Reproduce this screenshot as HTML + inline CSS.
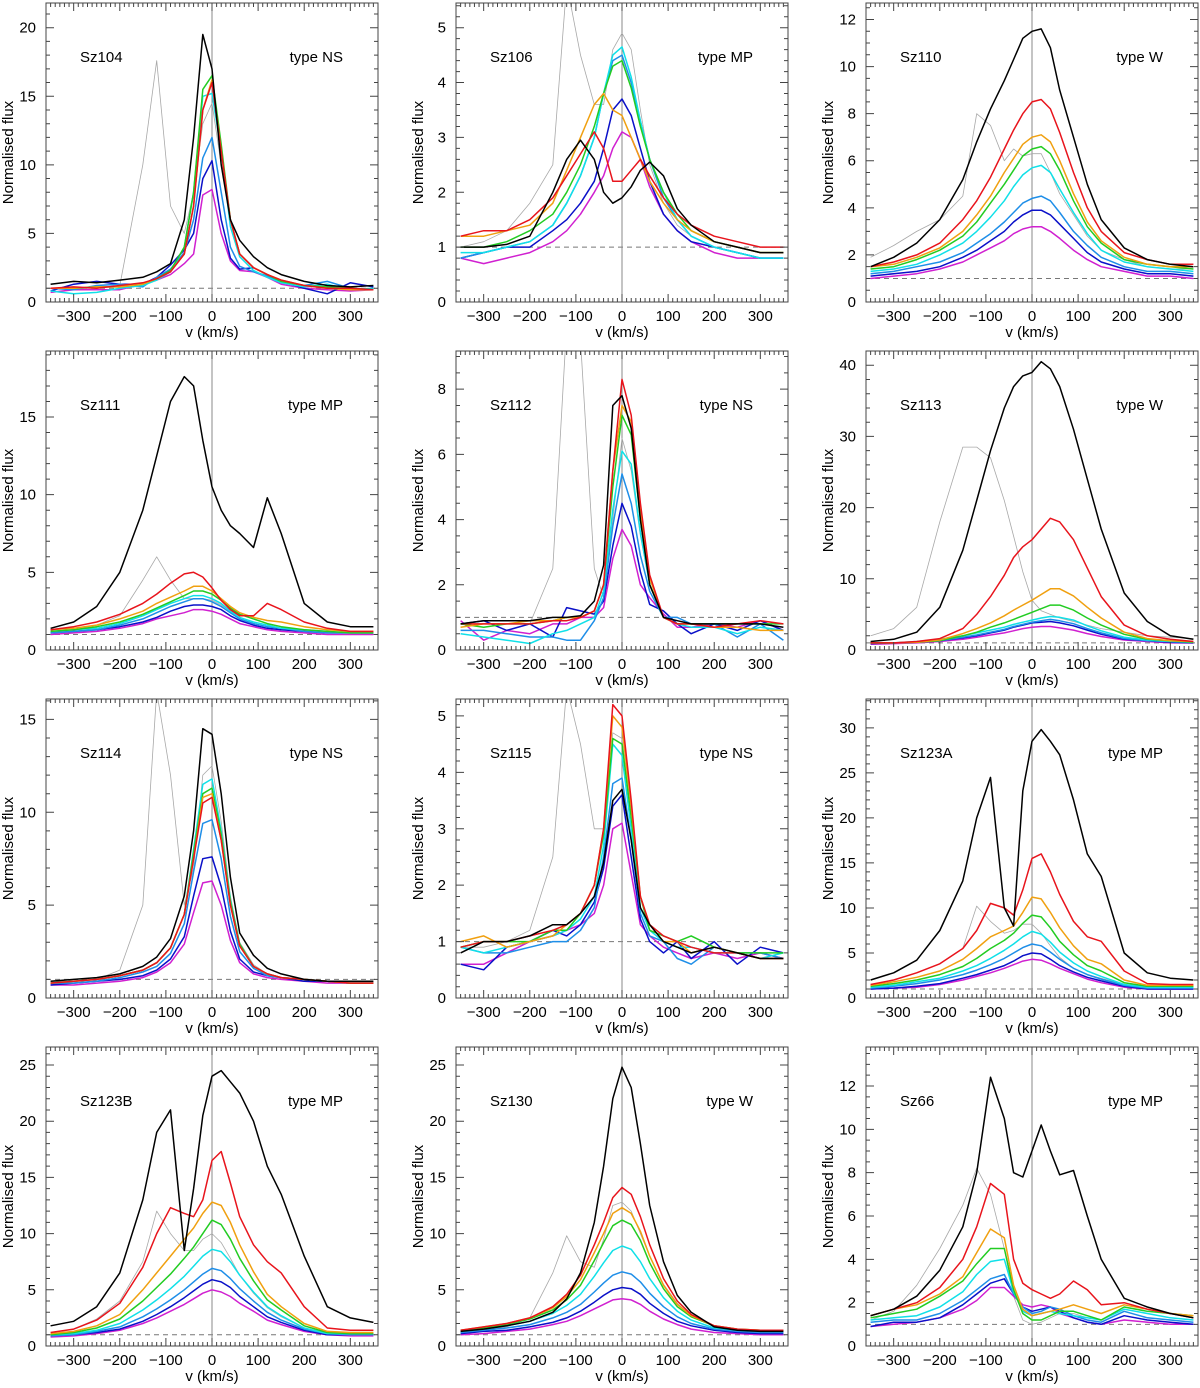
<!DOCTYPE html>
<html><head><meta charset="utf-8"><style>
html,body{margin:0;padding:0;background:#fff;}
svg{display:block;font-family:"Liberation Sans",Arial,sans-serif;}
</style></head><body>
<svg id="fig" width="1200" height="1388" viewBox="0 0 1200 1388" xmlns="http://www.w3.org/2000/svg"></svg>
<script>
const velocities=[-350,-300,-250,-200,-150,-120,-90,-60,-40,-20,0,20,40,60,90,120,150,200,250,300,350];
const xTicks=[-300,-200,-100,0,100,200,300];
const seriesColors=["#000000","#e8141c","#f0a010","#22cc22","#10e0e8","#1e8ee8","#0a10c8","#d020d0","#a8a8a8"];
const seriesNames=["black","red","orange","green","cyan","sky","blue","magenta","grey"];
const panelNames=["Sz104","Sz106","Sz110","Sz111","Sz112","Sz113","Sz114","Sz115","Sz123A","Sz123B","Sz130","Sz66"];
const panelTypes=["type NS","type MP","type W","type MP","type NS","type W","type NS","type NS","type MP","type MP","type W","type MP"];
const yMaxes=[21.8,5.45,12.7,19.25,9.17,42,16.1,5.3,33.2,26.6,26.6,13.8];
const yMajor=[5,1,2,5,2,10,5,1,5,5,5,2];
const yMinor=[1,0.2,0.5,1,0.5,2,1,0.2,1,1,1,0.5];

const sz104=[
[1.3,1.5,1.4,1.6,1.8,2.2,2.8,6,12,19.5,17,10,6,4.5,3.3,2.5,2,1.5,1.2,1.1,1.2],
[1,1.1,1,1.2,1.4,1.7,2.2,3.5,7,14,16,11,6,3.5,2.5,2,1.6,1.2,1,1,0.9],
[1,1,1.1,1.1,1.3,1.7,2.2,3.5,7,14,16.2,11,6,3.5,2.5,2,1.6,1.2,1,0.9,0.9],
[1,1,1.1,1.1,1.3,1.7,2.3,4,8,15.5,16.5,11.5,6,3.5,2.5,2,1.5,1.2,1.1,1,0.9],
[0.8,0.6,0.7,1,1.2,1.6,2.2,4,8,15,15.2,11,5.5,3.3,2.3,1.8,1.4,1.1,1.3,0.9,1],
[1,0.9,1.2,1.3,1.1,1.8,2.4,3.6,6,10.5,12,8,4,2.6,2.2,1.9,1.4,1.2,1.5,1,0.9],
[0.8,1.3,1.5,1.3,1.3,1.8,2.7,3.8,5,9,10.3,6,3.2,2.4,2.5,2,1.5,1,0.6,1.4,1.1],
[0.7,0.9,0.9,0.9,1.3,1.6,2,2.8,3.5,7.8,8.2,5,3,2.3,2.2,1.8,1.3,1,0.9,0.8,0.9],
[1,1,1,1.2,10,17.6,7,5,8,13,14.5,10,6,3.5,2.5,2,1.6,1.2,1,1,1]];
const sz106=[
[1,1,1.05,1.2,2.0,2.6,2.95,2.6,2.0,1.8,1.9,2.1,2.4,2.55,2.3,1.7,1.4,1.1,1,0.9,0.9],
[1.2,1.3,1.3,1.5,1.9,2.3,2.7,3.1,2.8,2.2,2.2,2.4,2.6,2.3,1.9,1.6,1.4,1.2,1.1,1.0,1.0],
[1.2,1.2,1.3,1.4,1.8,2.4,3.0,3.6,3.8,3.5,3.4,3.0,2.6,2.2,1.8,1.5,1.3,1.1,1.0,0.9,0.9],
[1,1,1.1,1.3,1.6,2.0,2.5,3.2,3.8,4.3,4.4,3.9,3.2,2.6,2.0,1.6,1.3,1.1,1,0.9,0.9],
[0.9,0.9,1,1.1,1.4,1.8,2.3,3,3.8,4.5,4.65,4.1,3.3,2.6,2,1.5,1.2,1,0.9,0.8,0.8],
[0.8,0.9,1.0,1.1,1.4,1.8,2.3,3.0,3.8,4.4,4.5,4.0,3.3,2.6,1.9,1.5,1.2,1.0,0.9,0.8,0.8],
[0.8,0.9,1.0,1.0,1.3,1.5,1.8,2.2,2.8,3.5,3.7,3.4,2.8,2.2,1.6,1.3,1.1,1.0,0.9,0.8,0.8],
[0.8,0.7,0.8,0.9,1.1,1.3,1.6,2.0,2.3,2.8,3.1,3.0,2.6,2.1,1.6,1.3,1.1,0.9,0.8,0.8,0.8],
[1,1.1,1.3,1.8,2.5,5.8,4.5,3.6,3.6,4.6,4.9,4.6,3.5,2.5,1.8,1.4,1.2,1.0,0.9,0.8,0.8]];
const sz110=[
[1.5,1.9,2.5,3.5,5.2,6.8,8.2,9.4,10.3,11.2,11.5,11.6,10.8,9,7,5,3.5,2.3,1.8,1.6,1.5],
[1.5,1.7,2,2.5,3.5,4.3,5.3,6.5,7.3,8,8.5,8.6,8.2,7.2,5.5,4,3,2.1,1.8,1.6,1.6],
[1.5,1.6,1.9,2.3,3,3.7,4.5,5.5,6.1,6.7,7,7.1,6.8,6,4.6,3.4,2.6,1.9,1.6,1.5,1.5],
[1.4,1.5,1.8,2.2,2.8,3.4,4.2,5,5.6,6.2,6.5,6.6,6.3,5.6,4.3,3.2,2.5,1.8,1.6,1.5,1.4],
[1.3,1.4,1.6,2,2.5,3,3.6,4.3,4.9,5.4,5.7,5.8,5.5,4.8,3.8,2.9,2.2,1.7,1.5,1.4,1.3],
[1.2,1.3,1.5,1.7,2.1,2.5,2.9,3.4,3.8,4.2,4.4,4.5,4.3,3.8,3,2.4,1.9,1.5,1.3,1.3,1.2],
[1.1,1.2,1.3,1.5,1.9,2.2,2.6,3,3.4,3.7,3.9,3.9,3.7,3.3,2.7,2.1,1.7,1.4,1.2,1.2,1.1],
[1,1.1,1.2,1.4,1.7,2,2.3,2.6,2.9,3.1,3.2,3.2,3,2.7,2.2,1.8,1.5,1.3,1.1,1.1,1],
[1.9,2.4,3,3.5,4.5,8,7.5,6,6.5,6.2,6.3,6.3,5.5,4.6,3.7,2.8,2.2,1.8,1.5,1.4,1.4]];
const sz111=[
[1.4,1.8,2.8,5,9,12.5,16,17.6,17,13.5,10.5,9,8,7.5,6.6,9.8,7.5,3,1.8,1.5,1.5],
[1.3,1.5,1.8,2.3,3,3.6,4.3,4.9,5,4.7,4,3.2,2.6,2.2,2.2,3,2.6,1.8,1.4,1.2,1.2],
[1.3,1.4,1.6,2,2.5,3,3.4,3.8,4.1,4.1,3.8,3.3,2.8,2.4,2.1,1.9,1.8,1.5,1.3,1.2,1.2],
[1.2,1.3,1.5,1.8,2.3,2.7,3.1,3.5,3.8,3.8,3.6,3.2,2.7,2.3,2,1.7,1.5,1.3,1.2,1.1,1.1],
[1.2,1.3,1.4,1.7,2.2,2.6,3,3.3,3.5,3.5,3.3,3,2.5,2.1,1.8,1.6,1.4,1.3,1.2,1.1,1.1],
[1.1,1.2,1.3,1.6,2,2.4,2.8,3.1,3.3,3.3,3.1,2.8,2.4,2,1.7,1.5,1.4,1.2,1.1,1.1,1.1],
[1.1,1.2,1.3,1.5,1.8,2.1,2.5,2.8,2.9,2.9,2.8,2.6,2.2,1.9,1.6,1.4,1.3,1.2,1.1,1.1,1.1],
[1,1.1,1.2,1.4,1.7,2,2.2,2.4,2.6,2.6,2.5,2.3,2,1.7,1.5,1.3,1.2,1.1,1,1,1],
[1.2,1.3,1.6,2.2,4.5,6,4.5,3.3,3.3,3.3,3.2,2.9,2.5,2.1,1.8,1.6,1.4,1.2,1.1,1.1,1.1]];
const sz112=[
[0.8,0.9,0.9,0.9,1,1,1.05,1.5,2.6,7.5,7.8,6.8,4,2,1,0.9,0.8,0.8,0.8,0.8,0.7],
[0.8,0.8,0.8,0.8,0.9,0.9,1,1.2,2,5.5,8.3,7.2,4.5,2.3,1,0.8,0.8,0.7,0.8,0.9,0.8],
[0.7,0.8,0.8,0.9,0.9,1,1,1.2,2,5.5,7.5,7,4.3,2.2,1,0.8,0.8,0.7,0.7,0.6,0.6],
[0.8,0.7,0.8,0.8,0.9,1,1,1.2,2,5,7.2,6.6,4,2,1,0.8,0.8,0.8,0.8,0.8,0.8],
[0.5,0.4,0.3,0.2,0.5,0.6,0.8,1,1.8,4.3,6.1,5.7,3.6,2,1,0.8,0.7,0.7,0.5,0.7,0.6],
[0.6,0.6,0.5,0.4,0.4,0.3,0.3,0.9,1.6,3.8,5.4,4.5,2.9,1.8,1,1,0.8,0.8,0.4,0.8,0.3],
[0.8,0.9,0.6,0.8,0.4,1.3,1.2,1.1,1.5,3.2,4.5,3.8,2.4,1.4,1.2,0.8,0.5,0.8,0.6,0.9,0.6],
[0.9,0.3,0.6,0.5,0.8,0.8,1,1,1.3,2.8,3.7,3.2,2,1.6,1.1,0.7,0.7,0.8,0.7,0.9,0.6],
[0.8,0.8,0.8,0.8,2.5,10,9.5,2.5,1.6,4,6.5,5.5,3.5,2,1,0.8,0.8,0.7,0.7,0.6,0.6]];
const sz113=[
[1.2,1.5,2.5,6,14,21,28,34,37,38.5,39,40.5,39.5,37,31,24,17,8,4,2,1.5],
[1,1,1.2,1.6,3,5,7.5,10.5,13,14.5,15.5,17,18.5,18,15.5,11.5,7.5,3.5,2,1.5,1.2],
[1,1,1.1,1.4,2.3,3,3.8,4.8,5.6,6.3,7,7.8,8.6,8.6,7.6,6,4.5,2.5,1.6,1.3,1.2],
[1,1,1.1,1.3,2,2.5,3.2,3.8,4.3,4.8,5.3,5.8,6.3,6.3,5.6,4.5,3.5,2.2,1.5,1.3,1.1],
[1,1,1.2,1.5,2,2.4,2.8,3.2,3.6,3.9,4.2,4.5,4.7,4.6,4.2,3.4,2.7,1.8,1.4,1.2,1.1],
[1,1,1.1,1.3,1.8,2.1,2.5,2.9,3.3,3.6,3.9,4.1,4.3,4.1,3.7,3,2.4,1.6,1.3,1.2,1.1],
[0.9,1,1.1,1.3,1.7,2,2.4,2.8,3.2,3.5,3.8,3.9,4,3.8,3.4,2.8,2.2,1.5,1.3,1.1,1],
[0.8,0.9,1,1.2,1.5,1.8,2.1,2.4,2.7,3,3.2,3.3,3.3,3.1,2.8,2.3,1.9,1.4,1.2,1,1],
[2,3,6,18,28.5,28.5,27,21,16,11,7,5.5,5,4.5,4,3.5,3,2.5,2,1.8,1.6]];
const sz114=[
[0.9,1,1.1,1.3,1.7,2.2,3.2,5.5,9,14.5,14.2,11,6.5,3.5,2.3,1.6,1.3,1,0.9,0.9,0.9],
[0.8,0.9,1,1.2,1.5,1.9,2.7,4.5,7.5,10.5,10.8,8.5,5,2.8,1.7,1.3,1.1,1,0.9,0.8,0.8],
[0.8,0.9,1,1.2,1.5,1.9,2.7,4.5,7.5,10.8,11,8.5,5,2.8,1.7,1.3,1.1,1,0.9,0.8,0.8],
[0.8,0.9,1,1.2,1.5,1.9,2.7,4.5,7.8,11,11.3,8.8,5.2,2.9,1.7,1.3,1.1,1,0.9,0.8,0.8],
[0.8,0.9,1,1.2,1.5,1.9,2.7,4.5,8,11.5,11.8,9,5.3,2.9,1.7,1.3,1.1,1,0.9,0.8,0.8],
[0.8,0.8,0.9,1.1,1.4,1.7,2.4,4,6.8,9.4,9.6,7.5,4.4,2.5,1.6,1.2,1.1,1,0.9,0.8,0.8],
[0.7,0.8,0.9,1,1.2,1.5,2.1,3.3,5.5,7.5,7.6,6,3.6,2.1,1.4,1.2,1.1,0.9,0.9,0.8,0.8],
[0.7,0.7,0.8,0.9,1.1,1.4,1.9,2.9,4.6,6.2,6.3,5,3.1,1.9,1.3,1.1,1,0.9,0.8,0.8,0.8],
[0.9,0.9,1,1.5,5,16.5,12,5,7,12,12.5,9.5,5.5,3,1.8,1.3,1.1,1,0.9,0.9,0.9]];
const sz115=[
[0.8,1,1,1.1,1.3,1.3,1.5,1.8,2.4,3.5,3.7,2.8,1.6,1.3,1,0.9,0.8,0.9,0.8,0.7,0.7],
[0.9,1,1,1.1,1.2,1.3,1.5,2,3,5.2,5,3.5,1.8,1.3,1.1,1,0.9,0.8,0.8,0.7,0.7],
[1,1.1,0.9,1,1.1,1.3,1.5,2,3,5,4.8,3.4,1.8,1.3,1,1,0.8,0.9,0.8,0.7,0.7],
[0.9,1,1,1,1.2,1.2,1.5,2,2.9,4.6,4.5,3.2,1.8,1.2,1.1,1,1.1,0.9,0.8,0.8,0.8],
[0.9,0.8,0.9,1,1.1,1.2,1.4,1.8,2.7,4.5,4.3,3,1.6,1.2,1,0.9,0.9,0.8,0.8,0.7,0.8],
[0.9,0.8,0.8,0.9,1,1,1.2,1.6,2.5,3.8,3.9,2.8,1.5,1.1,1,0.7,0.6,0.9,0.8,0.8,0.7],
[0.6,0.5,0.9,1,1.2,1.1,1.3,1.7,2.3,3.4,3.6,2.5,1.4,1,0.8,1,0.7,1,0.6,0.9,0.8],
[0.6,0.6,0.8,1,1.1,1.2,1.3,1.5,2,3,3.1,2.2,1.3,1.1,0.9,0.8,0.7,0.8,0.7,0.8,0.7],
[0.9,0.9,1,1.2,2.5,5.5,4.5,3,3,4.7,4.6,3.3,1.8,1.3,1.1,1,0.9,0.8,0.8,0.7,0.7]];
const sz123a=[
[2,2.8,4.2,7.5,13,20,24.5,10,8,23,28.5,29.8,28.5,27,22,16,13.5,5,2.8,2.2,2],
[1.5,2,2.8,3.8,5.5,7.5,10.5,10,9.2,12,15.5,16,14,11.5,8.5,6.8,6.3,3,1.6,1.5,1.5],
[1.4,1.8,2.3,3,4.3,5.5,6.8,7.5,8,9.5,11.2,11,9.5,7.8,5.8,4.3,3.8,2,1.4,1.4,1.4],
[1.3,1.6,2,2.6,3.5,4.4,5.5,6.4,7.2,8.3,9.2,9,7.8,6.3,4.8,3.6,3,1.7,1.3,1.3,1.3],
[1.2,1.4,1.8,2.2,3,3.6,4.4,5.3,6,6.8,7.4,7.1,6.2,5.1,3.9,3,2.4,1.5,1.2,1.2,1.2],
[1.1,1.3,1.6,2,2.6,3.1,3.7,4.4,5,5.6,6,5.8,5.1,4.3,3.3,2.6,2.1,1.4,1.1,1.1,1.1],
[1,1.1,1.3,1.6,2.2,2.6,3.1,3.6,4.1,4.7,5,4.9,4.3,3.6,2.9,2.3,1.9,1.3,1,1,1],
[1,1.1,1.2,1.5,2,2.4,2.8,3.3,3.7,4.1,4.3,4.2,3.8,3.3,2.7,2.1,1.7,1.2,1,1,1],
[1.5,2,2.8,3.8,5.5,10.2,8.5,7.2,7.5,8.2,8.2,7.2,5.8,4.5,3.3,2.6,2.2,1.5,1.3,1.3,1.3]];
const sz123b=[
[1.8,2.2,3.5,6.5,13,19,21,8.5,14,20.5,24,24.5,23.5,22.5,20,16,13.5,8,3.5,2.5,2.1],
[1.2,1.5,2.3,3.8,7,10,12.3,11.8,11.5,13,16.5,17.3,14.5,11.5,9,7.5,6.5,3.5,1.6,1.4,1.4],
[1.1,1.3,1.8,2.8,5,6.5,8,9.5,10.5,11.8,12.8,12.5,11,9,6.6,4.6,3.5,2,1.3,1.2,1.2],
[1,1.2,1.6,2.4,4,5.2,6.4,7.8,8.8,10,11.2,10.8,9.5,7.8,5.8,4.1,3.2,1.8,1.2,1.1,1.1],
[1,1.1,1.4,2,3.2,4.1,5.1,6.2,7.1,8,8.6,8.4,7.5,6.3,4.8,3.5,2.7,1.6,1.1,1.1,1.1],
[0.9,1,1.3,1.7,2.6,3.3,4.1,5,5.7,6.4,6.9,6.7,6,5.1,4,3,2.3,1.5,1.1,1,1],
[0.9,1,1.2,1.5,2.2,2.8,3.5,4.3,4.9,5.5,5.9,5.7,5.2,4.4,3.5,2.6,2.1,1.4,1,1,1],
[0.8,0.9,1.1,1.4,2,2.5,3.1,3.7,4.2,4.7,5,4.8,4.4,3.8,3.1,2.3,1.9,1.3,1,0.9,0.9],
[1.2,1.5,2.4,4,7.5,12,10,8.5,8.5,9.5,10,9.2,7.8,6.3,4.7,3.4,2.6,1.6,1.2,1.1,1.1]];
const sz130=[
[1.3,1.5,1.8,2.2,3,4.2,6.5,11,16,22,24.8,23,18,12.5,7.5,4.5,3,1.7,1.4,1.3,1.3],
[1.4,1.7,2,2.5,3.5,4.6,6.3,9,11,13.2,14.1,13.5,11.5,9,6,4,2.8,1.8,1.5,1.4,1.4],
[1.4,1.7,2,2.5,3.4,4.4,5.9,8.3,10,11.8,12.3,11.8,10.2,8,5.4,3.7,2.7,1.8,1.5,1.4,1.4],
[1.4,1.6,1.9,2.4,3.2,4.1,5.4,7.6,9.2,10.7,11.2,10.8,9.4,7.4,5.1,3.5,2.6,1.8,1.5,1.4,1.4],
[1.3,1.5,1.8,2.2,2.9,3.6,4.6,6.2,7.4,8.5,8.9,8.6,7.5,6,4.3,3.1,2.3,1.6,1.4,1.3,1.3],
[1.2,1.4,1.6,1.9,2.5,3,3.7,4.8,5.6,6.3,6.6,6.4,5.7,4.7,3.5,2.6,2,1.5,1.3,1.2,1.2],
[1.1,1.3,1.4,1.7,2.1,2.5,3.1,3.9,4.5,5,5.2,5.1,4.6,3.8,2.9,2.2,1.8,1.4,1.2,1.1,1.1],
[1,1.1,1.3,1.5,1.9,2.2,2.7,3.3,3.7,4.1,4.2,4.1,3.7,3.1,2.4,1.9,1.5,1.2,1.1,1,1],
[1.2,1.4,1.7,2.5,6.5,9.8,7.5,7,9.5,12.5,12.8,12,10,8,5.5,3.8,2.7,1.7,1.4,1.3,1.3]];
const sz66=[
[1.4,1.7,2.3,3.5,5.5,8,12.4,10.5,8,7.8,9,10.2,9,7.9,8.1,6,4,2.2,1.8,1.5,1.3],
[1.4,1.7,2,2.7,4,5.5,7.5,7,4,2.9,2.6,2.4,2.2,2.4,3,2.6,1.9,2,1.7,1.5,1.3],
[1.4,1.7,1.9,2.4,3.2,4.3,5.4,5,2.8,1.7,1.4,1.5,1.6,1.7,1.9,1.7,1.5,1.9,1.7,1.5,1.4],
[1.3,1.5,1.7,2.3,3,3.8,4.5,4.5,2.6,1.5,1.2,1.2,1.4,1.6,1.6,1.4,1.2,1.8,1.6,1.5,1.4],
[1.2,1.3,1.4,1.8,2.5,3.3,3.9,4,2.5,1.6,1.4,1.5,1.6,1.5,1.4,1.3,1.2,1.7,1.5,1.3,1.2],
[1.1,1.2,1.2,1.5,2.1,2.6,3.1,3.3,2.4,1.8,1.5,1.6,1.8,1.7,1.4,1.2,1.1,1.6,1.3,1.2,1.1],
[0.9,1.1,1.1,1.3,1.9,2.4,2.9,3.1,2.4,1.8,1.6,1.7,1.8,1.6,1.3,1.1,1,1.4,1.2,1.1,1],
[0.9,1,1.1,1.3,1.7,2.1,2.7,2.7,2.3,1.9,1.8,1.9,1.8,1.5,1.3,1.1,1,1.2,1.1,1,1],
[1.2,1.6,2.8,4.5,6.5,8.2,7,4.5,2.3,1.2,1,1.1,1.3,1.5,1.5,1.3,1.2,1.7,1.5,1.3,1.2]];
const panelData=[sz104,sz106,sz110,sz111,sz112,sz113,sz114,sz115,sz123a,sz123b,sz130,sz66];

const NS="http://www.w3.org/2000/svg";
const svg=document.getElementById('fig');
const colLeft=[46,456,866], colW=332, rowTop=[3,351,699,1047], plotH=299;
const XMIN=-360,XMAX=360;
function mk(tag,attrs,parent){const e=document.createElementNS(NS,tag);for(const k in attrs)e.setAttribute(k,attrs[k]);parent.appendChild(e);return e;}

panelNames.forEach((pname,p)=>{
  const L=colLeft[p%3],T=rowTop[Math.floor(p/3)],R=L+colW,B=T+plotH;
  const ymax=yMaxes[p];
  const xs=v=>L+(v-XMIN)/(XMAX-XMIN)*colW;
  const ys=y=>B-y/ymax*plotH;
  const g=mk('g',{},svg);
  
  
  const cp=mk('clipPath',{id:'c'+p},g);
  mk('rect',{x:L,y:T,width:colW,height:plotH},cp);
  const base=mk('line',{x1:L,x2:R,y1:ys(1),y2:ys(1),stroke:'#777','stroke-width':1,'stroke-dasharray':'5,4'},g);
  
  
  const zl=mk('line',{x1:xs(0),x2:xs(0),y1:T,y2:B,stroke:'#888','stroke-width':1},g);
  
  
  const order=[8,7,6,5,4,3,2,1,0];
  const data=panelData[p];
  order.forEach(s=>{
    const pts=data[s].map((y,i)=>xs(velocities[i]).toFixed(1)+','+ys(y).toFixed(1)).join(' ');
    const pl=mk('polyline',{points:pts,fill:'none',stroke:seriesColors[s],'stroke-width':s===8?0.8:1.5,'stroke-linejoin':'round','clip-path':'url(#c'+p+')'},g);
    
    
  });
  const fr=mk('rect',{x:L,y:T,width:colW,height:plotH,fill:'none',stroke:'#444','stroke-width':1},g);
  
  
  let tp='';
  for(let v=-350;v<=350;v+=10){const x=xs(v);const len=(v%100===0)?8:4;tp+=`M${x},${B}v${-len}M${x},${T}v${len}`;}
  const n=Math.round(ymax/yMinor[p]);
  for(let k=0;k<=n;k++){const yv=k*yMinor[p];if(yv>ymax)break;const y=ys(yv);const maj=Math.abs(yv/yMajor[p]-Math.round(yv/yMajor[p]))<1e-6;const len=maj?8:4;tp+=`M${L},${y}h${len}M${R},${y}h${-len}`;}
  const tk=mk('path',{d:tp,stroke:'#444','stroke-width':1,fill:'none'},g);
  
  
  xTicks.forEach(v=>{
    const t=mk('text',{x:xs(v),y:B+19,'font-size':15,'text-anchor':'middle',fill:'#000'},g);
    t.textContent=(v<0?'\u2212':'')+Math.abs(v);
    
    
  });
  for(let yv=0;yv<=ymax+1e-9;yv+=yMajor[p]){
    const t=mk('text',{x:L-10,y:ys(yv)+5,'font-size':15,'text-anchor':'end',fill:'#000'},g);
    t.textContent=String(Math.round(yv*10)/10);
    
    
  }
  const xl=mk('text',{x:(L+R)/2,y:B+35,'font-size':15,'text-anchor':'middle'},g);
  xl.textContent='v (km/s)';
  
  
  const yl=mk('text',{x:0,y:0,'font-size':15,'text-anchor':'middle',transform:`translate(${L-33},${(T+B)/2}) rotate(-90)`},g);
  yl.textContent='Normalised flux';
  
  
  const nm=mk('text',{x:L+34,y:T+59,'font-size':15},g);
  nm.textContent=pname;
  
  
  const ty=mk('text',{x:R-35,y:T+59,'font-size':15,'text-anchor':'end'},g);
  ty.textContent=panelTypes[p];
  
  
});
</script>
</body></html>
